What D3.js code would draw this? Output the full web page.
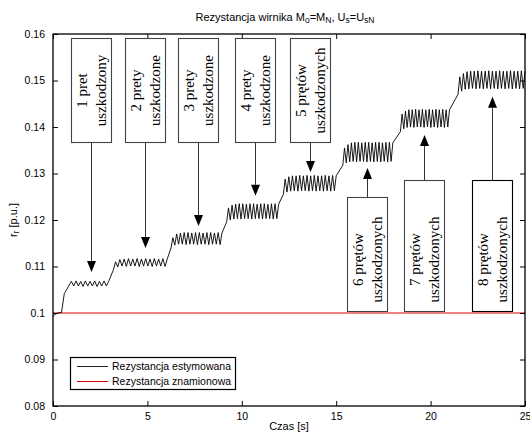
<!DOCTYPE html>
<html>
<head>
<meta charset="utf-8">
<script src="https://cdn.jsdelivr.net/npm/d3@7"></script>
<style>
  html, body { margin: 0; padding: 0; background: #fff; }
  svg { display: block; }
  text { font-family: "Liberation Sans", Arial, sans-serif; fill: #000; }
  text.note { font-family: "Liberation Serif", "Times New Roman", serif; }
</style>
</head>
<body>
<svg id="chart" width="530" height="432"></svg>
<script>
// Axis ticks
const xTicks = [0, 5, 10, 15, 20, 25];
const yTicks = [0.08, 0.09, 0.10, 0.11, 0.12, 0.13, 0.14, 0.15, 0.16];

// Start-up transient of the estimator
const startupTime  = [0, 0.1, 0.25, 0.45, 0.6, 0.72];
const startupValue = [0.0992, 0.0997, 0.1000, 0.1001, 0.1042, 0.1050];

// Quasi-steady plateaus (one per number of broken bars): time span and successive extremes
const plateauFrom = [0.85, 3.2, 6.25, 9.2, 12.2, 15.35, 18.4, 21.45];
const plateauTo   = [2.95, 6.05, 8.95, 11.95, 15.0, 18.0, 21.0, 25.0];
const plateau1 = [0.1060,0.1068,0.1058,0.1069,0.1058,0.1068,0.1057,0.1069,0.1058,0.1068,0.1058,0.1069,0.1057,0.1068,0.1058,0.1069,0.1058,0.1068];
const plateau2 = [0.1093,0.1110,0.1099,0.1115,0.1101,0.1116,0.1100,0.1117,0.1101,0.1116,0.1101,0.1117,0.1100,0.1116,0.1101,0.1117,0.1101,0.1116,0.1100,0.1117,0.1101,0.1116,0.1101,0.1117,0.1100,0.1116];
const plateau3 = [0.1140,0.1162,0.1146,0.1170,0.1148,0.1172,0.1148,0.1173,0.1147,0.1173,0.1148,0.1172,0.1148,0.1173,0.1147,0.1173,0.1148,0.1172,0.1148,0.1173,0.1147,0.1173,0.1148,0.1172,0.1148,0.1173,0.1147,0.1172];
const plateau4 = [0.1196,0.1226,0.1200,0.1232,0.1202,0.1234,0.1203,0.1235,0.1202,0.1235,0.1203,0.1234,0.1203,0.1235,0.1202,0.1235,0.1203,0.1234,0.1203,0.1235,0.1202,0.1235,0.1203,0.1234,0.1203,0.1235,0.1202,0.1235,0.1203,0.1234];
const plateau5 = [0.1255,0.1288,0.1260,0.1293,0.1262,0.1295,0.1263,0.1295,0.1262,0.1296,0.1263,0.1295,0.1263,0.1296,0.1262,0.1295,0.1263,0.1296,0.1262,0.1295,0.1263,0.1295,0.1262,0.1296,0.1263,0.1295,0.1262,0.1296,0.1263,0.1295];
const plateau6 = [0.1318,0.1355,0.1323,0.1362,0.1325,0.1366,0.1326,0.1367,0.1325,0.1367,0.1326,0.1366,0.1326,0.1367,0.1325,0.1367,0.1326,0.1366,0.1325,0.1367,0.1326,0.1367,0.1325,0.1366,0.1326,0.1367,0.1325,0.1367,0.1326,0.1366];
const plateau7 = [0.1390,0.1428,0.1396,0.1434,0.1399,0.1437,0.1400,0.1437,0.1399,0.1438,0.1400,0.1437,0.1400,0.1438,0.1399,0.1437,0.1400,0.1438,0.1399,0.1437,0.1400,0.1438,0.1399,0.1437,0.1400,0.1438,0.1399,0.1437,0.1400,0.1437];
const plateau8 = [0.1470,0.1508,0.1477,0.1515,0.1481,0.1519,0.1482,0.1520,0.1483,0.1520,0.1482,0.1521,0.1483,0.1520,0.1482,0.1520,0.1483,0.1521,0.1482,0.1520,0.1483,0.1520,0.1482,0.1521,0.1483,0.1520,0.1482,0.1520,0.1483,0.1521,0.1482,0.1520,0.1483,0.1520,0.1482,0.1521,0.1483,0.1520];
const plateaus = [plateau1, plateau2, plateau3, plateau4, plateau5, plateau6, plateau7, plateau8];

// Rated rotor resistance
const ratedValue = 0.1;

// Annotations: text, arrow position (time), arrow tip (value), box extent (values)
const noteLine1 = ["1 pret", "2 prety", "3 prety", "4 prety", "5 prętów", "6 prętów", "7 prętów", "8 prętów"];
const noteLine2 = ["uszkodzony", "uszkodzone", "uszkodzone", "uszkodzone", "uszkodzonych", "uszkodzonych", "uszkodzonych", "uszkodzonych"];
const noteAt    = [2.0, 4.85, 7.7, 10.7, 13.6, 16.65, 19.65, 23.25];
const noteTip   = [0.1088, 0.1140, 0.1187, 0.1252, 0.1303, 0.1312, 0.1383, 0.1465];
const noteBoxA  = [0.1591, 0.1591, 0.1591, 0.1591, 0.1591, 0.1249, 0.1286, 0.1286];
const noteBoxB  = [0.1368, 0.1368, 0.1368, 0.1368, 0.1368, 0.1004, 0.1004, 0.1004];

const legendLabels = ["Rezystancja estymowana", "Rezystancja znamionowa"];
const legendColors = ["#222", "#e00000"];

// ---------------------------------------------------------------
const svg = d3.select("#chart");
const plotL = 53, plotR = 525, plotT = 34, plotB = 406;

const x = d3.scaleLinear().domain([0, 25]).range([plotL, plotR]);
const y = d3.scaleLinear().domain([0.08, 0.16]).range([plotB, plotT]);

// Build the estimated-resistance trace
const trace = startupTime.map((t, i) => [t, startupValue[i]]);
plateaus.forEach((vals, k) => {
  const t0 = plateauFrom[k], t1 = plateauTo[k];
  const n = vals.length;
  vals.forEach((v, i) => trace.push([t0 + (t1 - t0) * i / (n - 1), v]));
});

const line = d3.line().x(d => x(d[0])).y(d => y(d[1]));

// Rated value line
svg.append("line")
  .attr("x1", x(0)).attr("x2", x(25))
  .attr("y1", y(ratedValue)).attr("y2", y(ratedValue))
  .attr("stroke", legendColors[1]).attr("stroke-width", 1);

// Estimated trace
svg.append("path")
  .datum(trace)
  .attr("d", line)
  .attr("fill", "none")
  .attr("stroke", "#000")
  .attr("stroke-width", 0.9)
  .attr("stroke-linejoin", "miter");

// Axes with inward ticks on all four sides
const fmt = d => String(+d.toFixed(2));
const gx = svg.append("g").attr("transform", `translate(0,${plotB})`)
  .call(d3.axisBottom(x).tickValues(xTicks).tickSizeInner(-5).tickSizeOuter(0).tickPadding(8).tickFormat(fmt));
const gy = svg.append("g").attr("transform", `translate(${plotL},0)`)
  .call(d3.axisLeft(y).tickValues(yTicks).tickSizeInner(-5).tickSizeOuter(0).tickPadding(8).tickFormat(fmt));
const gt = svg.append("g").attr("transform", `translate(0,${plotT})`)
  .call(d3.axisTop(x).tickValues(xTicks).tickSizeInner(-5).tickSizeOuter(0).tickFormat(""));
const gr = svg.append("g").attr("transform", `translate(${plotR},0)`)
  .call(d3.axisRight(y).tickValues(yTicks).tickSizeInner(-5).tickSizeOuter(0).tickFormat(""));
[gx, gy, gt, gr].forEach(g => {
  g.select(".domain").remove();
  g.selectAll(".tick line").attr("stroke", "#000").attr("stroke-width", 1);
  g.selectAll("text").attr("font-size", 10.5).attr("fill", "#000");
});
gx.selectAll(".tick text").attr("dy", "0.6em");

svg.append("rect")
  .attr("x", plotL).attr("y", plotT)
  .attr("width", plotR - plotL).attr("height", plotB - plotT)
  .attr("fill", "none").attr("stroke", "#000").attr("stroke-width", 1.3);

// Title
const title = svg.append("text")
  .attr("x", 285).attr("y", 21)
  .attr("text-anchor", "middle")
  .attr("font-size", 11);
const sub = (t, s) => { t.append("tspan").attr("baseline-shift", "-25%").attr("font-size", 8.5).text(s); };
title.append("tspan").text("Rezystancja wirnika M");
sub(title, "o");
title.append("tspan").text("=M");
sub(title, "N");
title.append("tspan").text(", U");
sub(title, "s");
title.append("tspan").text("=U");
sub(title, "sN");

// Axis labels
svg.append("text")
  .attr("x", (plotL + plotR) / 2).attr("y", 430)
  .attr("text-anchor", "middle").attr("font-size", 11)
  .text("Czas [s]");
const yl = svg.append("text")
  .attr("transform", `translate(17,${(plotT + plotB) / 2}) rotate(-90)`)
  .attr("text-anchor", "middle").attr("font-size", 11);
yl.append("tspan").text("r");
sub(yl, "r");
yl.append("tspan").text(" [p.u.]");

// Annotation boxes with arrows
const boxW = 40, headL = 11, headW = 4.5;
noteLine1.forEach((l1, i) => {
  const cx = Math.round(x(noteAt[i])) + 0.5;
  const yA = Math.round(y(noteBoxA[i])) + 0.5, yB = Math.round(y(noteBoxB[i])) + 0.5;
  const tip = y(noteTip[i]);
  const g = svg.append("g");
  g.append("rect")
    .attr("x", cx - boxW / 2).attr("y", yA)
    .attr("width", boxW).attr("height", yB - yA)
    .attr("fill", "#fff")
    .attr("stroke", i === 7 ? "#000" : "#444").attr("stroke-width", 1.1);
  // arrow leaves the box edge nearest to the trace
  const down = tip > yB;
  const base = down ? yB : yA;
  const dir = down ? 1 : -1;
  g.append("line")
    .attr("x1", cx).attr("x2", cx)
    .attr("y1", base).attr("y2", tip - dir * headL)
    .attr("stroke", "#333").attr("stroke-width", 1);
  g.append("path")
    .attr("d", `M${cx},${tip} L${cx - headW},${tip - dir * headL} L${cx + headW},${tip - dir * headL} Z`)
    .attr("fill", "#000");
  const ty = yB - 52;
  const t = g.append("g").attr("transform", `translate(${cx},${ty}) rotate(-90)`);
  [l1, noteLine2[i]].forEach((s, j) => {
    t.append("text")
      .attr("class", "note")
      .attr("x", 0).attr("y", j === 0 ? -9 : 10)
      .attr("dy", "0.32em")
      .attr("text-anchor", "middle")
      .attr("font-size", 15)
      .text(s);
  });
});

// Legend
const lg = svg.append("g");
lg.append("rect")
  .attr("x", 70.5).attr("y", 357.5).attr("width", 165).attr("height", 32)
  .attr("fill", "#fff").attr("stroke", "#000").attr("stroke-width", 1.2);
legendLabels.forEach((lab, i) => {
  const ly = 366.5 + i * 15;
  lg.append("line")
    .attr("x1", 77).attr("x2", 108).attr("y1", ly).attr("y2", ly)
    .attr("stroke", legendColors[i]).attr("stroke-width", 1);
  lg.append("text")
    .attr("x", 112).attr("y", ly).attr("dy", "0.35em")
    .attr("font-size", 10.5)
    .text(lab);
});
</script>
</body>
</html>
